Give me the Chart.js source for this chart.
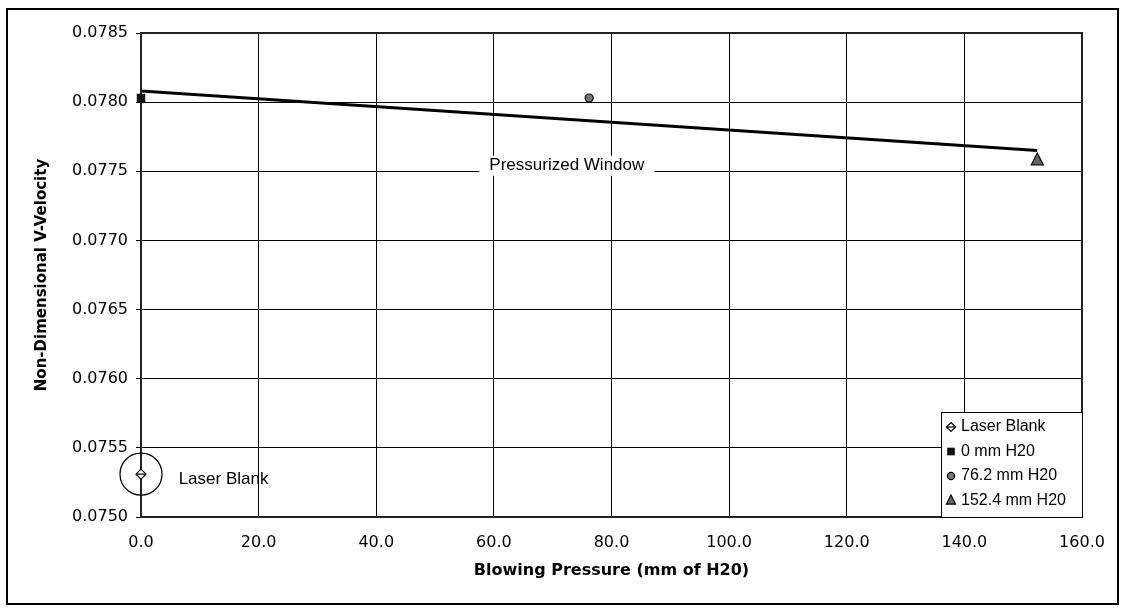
<!DOCTYPE html>
<html>
<head>
<meta charset="utf-8">
<script src="https://cdn.jsdelivr.net/npm/chart.js@4/dist/chart.umd.min.js"></script>
<style>
html,body{margin:0;padding:0;background:#fff;}
#wrap{width:1124px;height:608px;position:relative;}
</style>
</head>
<body>
<div id="wrap"><canvas id="c" width="1124" height="608"></canvas></div>
<script>
// ---- data ----
const seriesNames = ["Laser Blank", "0 mm H20", "76.2 mm H20", "152.4 mm H20"];
const seriesX = [0, 0, 76.2, 152.4];
const seriesY = [0.07531, 0.07803, 0.07803, 0.07758];
const trendX = [0, 152.4];
const trendY = [0.07808, 0.07765];
const xTicks = [0, 20, 40, 60, 80, 100, 120, 140, 160];
const yTicks = [0.0750, 0.0755, 0.0760, 0.0765, 0.0770, 0.0775, 0.0780, 0.0785];
const annotations = [
  {text: "Pressurized Window", x: 72.4, y: 0.07754},
  {text: "Laser Blank", x: 6.4, y: 0.07527}
];
const pointStyles = ["rectRot", "rect", "circle", "triangle"];

function drawMarker(ctx, style, x, y, s) {
  ctx.save();
  ctx.strokeStyle = '#000';
  ctx.lineWidth = 1.2;
  ctx.beginPath();
  if (style === 'rectRot') {
    ctx.moveTo(x, y - s); ctx.lineTo(x + s, y); ctx.lineTo(x, y + s); ctx.lineTo(x - s, y); ctx.closePath();
    ctx.fillStyle = '#fff'; ctx.fill(); ctx.stroke();
    ctx.beginPath(); ctx.moveTo(x - s, y); ctx.lineTo(x + s, y); ctx.stroke();
  } else if (style === 'rect') {
    ctx.fillStyle = '#111'; ctx.fillRect(x - s * 0.85, y - s * 0.85, s * 1.7, s * 1.7);
  } else if (style === 'circle') {
    ctx.arc(x, y, s * 0.8, 0, Math.PI * 2);
    ctx.fillStyle = '#777'; ctx.fill(); ctx.stroke();
  } else if (style === 'triangle') {
    ctx.moveTo(x, y - s * 1.2); ctx.lineTo(x + s, y + s * 0.8); ctx.lineTo(x - s, y + s * 0.8); ctx.closePath();
    ctx.fillStyle = '#666'; ctx.fill(); ctx.stroke();
  }
  ctx.restore();
}

const decor = {
  id: 'decor',
  beforeDraw(chart) {
    const ctx = chart.ctx;
    ctx.save();
    ctx.fillStyle = '#fff';
    ctx.fillRect(0, 0, chart.width, chart.height);
    ctx.strokeStyle = '#000';
    ctx.lineWidth = 2;
    ctx.strokeRect(7, 9, 1111, 595);
    ctx.restore();
  },
  afterDatasetsDraw(chart) {
    const ctx = chart.ctx;
    const xs = chart.scales.x, ys = chart.scales.y;
    const a = chart.chartArea;
    ctx.save();
    // plot frame
    ctx.strokeStyle = '#222';
    ctx.lineWidth = 2;
    ctx.strokeRect(a.left, a.top, a.right - a.left, a.bottom - a.top);
    // annotations
    ctx.font = '17px "Liberation Sans", Arial, sans-serif';
    ctx.textBaseline = 'middle';
    const pw = annotations[0];
    const px = xs.getPixelForValue(pw.x), py = ys.getPixelForValue(pw.y);
    const w = ctx.measureText(pw.text).width;
    ctx.fillStyle = '#fff';
    ctx.fillRect(px - w / 2 - 10, py - 10, w + 20, 20);
    ctx.fillStyle = '#000';
    ctx.textAlign = 'center';
    ctx.fillText(pw.text, px, py);
    const lb = annotations[1];
    ctx.textAlign = 'left';
    ctx.fillText(lb.text, xs.getPixelForValue(lb.x), ys.getPixelForValue(lb.y));
    // circle around laser blank point
    const cx = xs.getPixelForValue(seriesX[0]), cy = ys.getPixelForValue(seriesY[0]);
    ctx.beginPath();
    ctx.arc(cx, cy, 21, 0, Math.PI * 2);
    ctx.strokeStyle = '#000';
    ctx.lineWidth = 1.2;
    ctx.stroke();
    for (let i = 0; i < seriesNames.length; i++) {
      drawMarker(ctx, pointStyles[i], xs.getPixelForValue(seriesX[i]), ys.getPixelForValue(seriesY[i]), i === 3 ? 6 : 5);
    }
    // legend box
    const lx = 941, ly = 412, lw = a.right - 941, lh = a.bottom - 412;
    ctx.fillStyle = '#fff';
    ctx.fillRect(lx, ly, lw, lh);
    ctx.strokeStyle = '#000';
    ctx.lineWidth = 1;
    ctx.strokeRect(lx + 0.5, ly + 0.5, lw, lh);
    ctx.font = '16px "Liberation Sans", Arial, sans-serif';
    ctx.fillStyle = '#000';
    ctx.textAlign = 'left';
    for (let i = 0; i < seriesNames.length; i++) {
      const yy = ly + 15 + i * 24.5;
      drawMarker(ctx, pointStyles[i], lx + 10, yy, 4.5);
      ctx.fillStyle = '#000';
      ctx.fillText(seriesNames[i], lx + 20, yy);
    }
    ctx.restore();
  }
};

const datasets = seriesNames.map((n, i) => ({
  label: n,
  data: [{x: seriesX[i], y: seriesY[i]}],
  pointRadius: 0,
  showLine: false
}));
datasets.push({
  label: 'trend',
  data: trendX.map((x, i) => ({x, y: trendY[i]})),
  showLine: true,
  borderColor: '#000',
  borderWidth: 3,
  pointRadius: 0
});

new Chart(document.getElementById('c'), {
  type: 'scatter',
  data: {datasets},
  options: {
    responsive: false,
    animation: false,
    events: [],
    layout: {padding: {left: 0, top: 33, right: 42, bottom: 0}},
    plugins: {legend: {display: false}, tooltip: {enabled: false}},
    scales: {
      x: {
        type: 'linear', min: 0, max: 160,
        afterBuildTicks: s => { s.ticks = xTicks.map(v => ({value: v})); },
        afterFit: s => { s.height = 91; },
        grid: {color: '#000', lineWidth: 1, drawTicks: false},
        border: {display: false},
        ticks: {
          padding: 16, color: '#000', maxRotation: 0, autoSkip: false,
          font: {family: '"DejaVu Sans", Verdana, sans-serif', size: 16},
          callback: v => Number(v).toFixed(1)
        },
        title: {
          display: true, text: 'Blowing Pressure (mm of H20)', color: '#000',
          font: {family: '"DejaVu Sans", Verdana, sans-serif', size: 16, weight: 'bold'},
          padding: {top: 0, bottom: 28}
        }
      },
      y: {
        type: 'linear', min: 0.075, max: 0.0785,
        afterBuildTicks: s => { s.ticks = yTicks.map(v => ({value: v})); },
        afterFit: s => { s.width = 141; },
        grid: {color: '#000', lineWidth: 1, tickLength: 5},
        border: {display: false},
        ticks: {
          padding: 8, color: '#000', autoSkip: false,
          font: {family: '"DejaVu Sans", Verdana, sans-serif', size: 16},
          callback: v => Number(v).toFixed(4)
        },
        title: {
          display: true, text: 'Non-Dimensional V-Velocity', color: '#000',
          font: {family: '"DejaVu Sans", Verdana, sans-serif', size: 15, weight: 'bold'},
          padding: {top: 33, bottom: 0}
        }
      }
    }
  },
  plugins: [decor]
});
</script>
</body>
</html>
